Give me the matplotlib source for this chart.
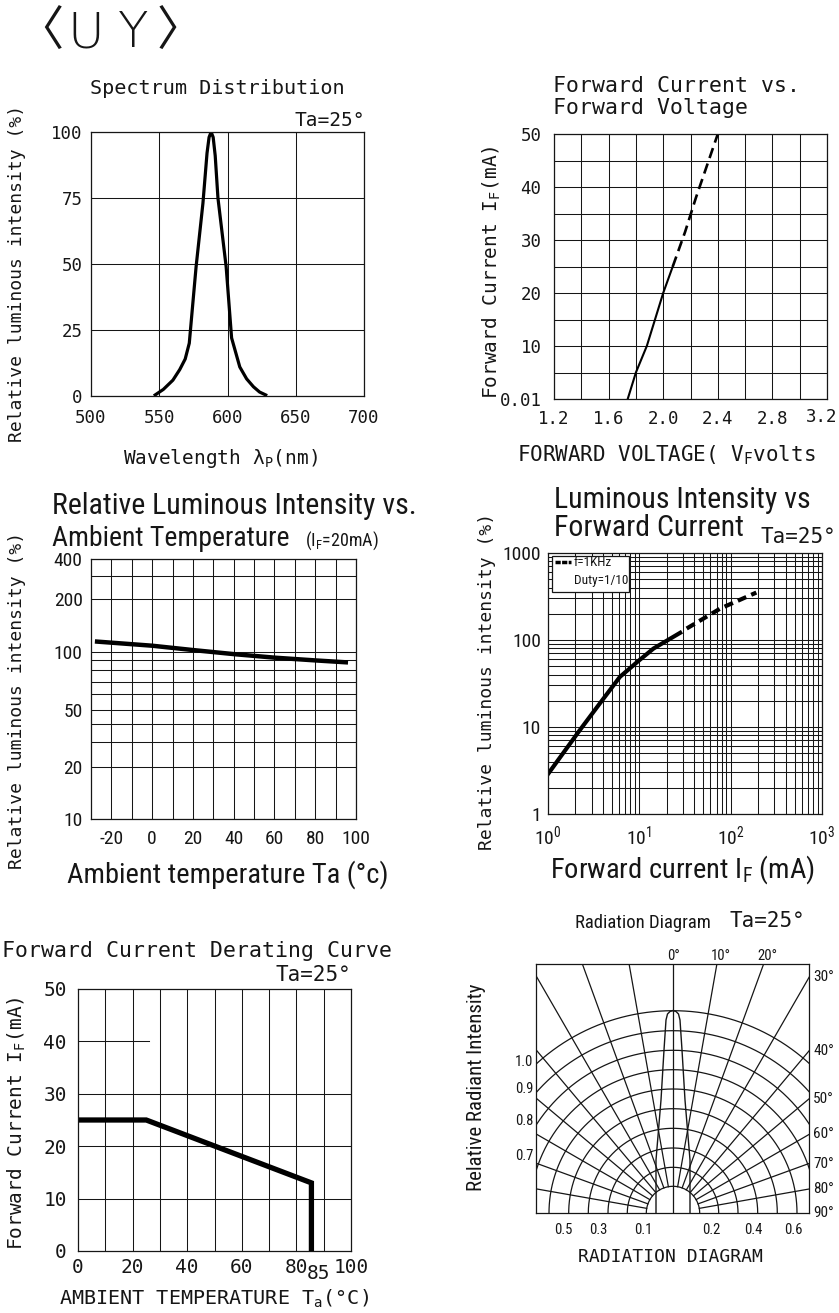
import os
import numpy as np
import matplotlib
matplotlib.use("Agg")
import matplotlib.pyplot as plt
from matplotlib import font_manager
from matplotlib.font_manager import FontProperties
from matplotlib.patches import Rectangle
from matplotlib.ticker import FixedLocator, NullFormatter

plt.rcParams['font.family'] = ['DejaVu Sans Mono', 'DejaVu Sans']
plt.rcParams['mathtext.default'] = 'regular'

W, H = 839, 1313
INK = '#161616'

# ---- values ----
# spectrum distribution (Ta=25)
wavelength = [547, 553, 560, 565, 569, 572, 577, 582, 585, 586.5, 588, 589.5, 591, 593, 599, 603, 609, 614, 619, 623.5, 628]
spectrum = [0.4, 2.5, 6, 10, 14, 20, 49, 73, 92, 98, 100, 98, 91, 75, 49, 22, 11, 6.5, 3.5, 1.5, 0.4]

# forward current vs forward voltage
vf_meas = [1.74, 1.80, 1.88, 1.94, 2.00, 2.07]
if_meas = [0, 5, 10, 15, 20, 25]
vf_ext = [2.07, 2.16, 2.24, 2.32, 2.40]
if_ext = [25, 31.5, 38, 44, 50]
vf_ticks = [1.2, 1.6, 2.0, 2.4, 2.8, 3.2]
if_ticks = [0, 10, 20, 30, 40, 50]
if_ticklabels = ['0.01', '10', '20', '30', '40', '50']

# relative luminous intensity vs ambient temperature (IF=20mA)
amb_temp = [-27, 0, 20, 40, 60, 80, 95]
rel_lum = [114, 108, 102, 97, 93, 90, 88]
temp_ticks = [-20, 0, 20, 40, 60, 80, 100]
lum_ticks = [10, 20, 50, 100, 200, 400]
lum_tick_pos = [0, 156, 328, 503, 661, 781]  # the printed axis is not a clean log scale
lum_minor = [30, 40, 60, 70, 80, 90, 300]

# luminous intensity vs forward current
if_dc = [1, 2.23, 3.7, 6.13, 10, 14.3, 28]
lum_dc = [2.88, 9.2, 18.7, 37.7, 58.6, 79.8, 121]
if_pulse = [33, 77, 191]
lum_pulse = [135.5, 230, 351]

# forward current derating curve
der_temp = [0, 25, 85.5, 85.5]
der_if = [25, 25, 13, 0]

# radiation diagram (units ~ px of the printed diagram)
ring_r = [26.7, 45.7, 65.0, 84.7, 104.3, 124.0, 143.3, 162.7, 182.3, 202.3]
spoke_deg = [-80, -70, -60, -50, -40, -30, -20, -10, 10, 20, 30, 40, 50, 60, 70, 80]
lobe_h = [0, 53, 113, 163, 193, 199, 201.5, 202.5]
lobe_w = [17, 17, 12, 9, 7, 5.5, 3, 0]
rad_left_lbl = ['1.0', '0.9', '0.8', '0.7']
rad_left_y = [151, 124, 92, 57]
rad_bot_lbl = ['0.5', '0.3', '0.1', '0.2', '0.4', '0.6']
rad_bot_x = [-110, -75, -30, 38, 80, 120]
rad_top_deg = [0, 10, 20]
rad_right_deg = [30, 40, 50, 60, 70, 80, 90]


def narrow_path():
    for name in ['Liberation Sans Narrow', 'Roboto Condensed', 'DejaVu Sans Condensed']:
        for f in font_manager.fontManager.ttflist:
            if f.name == name and f.style == 'normal' and f.weight in (400, 'normal', 'regular'):
                return f.fname
    for f in font_manager.fontManager.ttflist:
        if os.path.basename(f.fname) == 'DejaVuSansCondensed.ttf':
            return f.fname
    return None


NARROW = narrow_path()


def nf(size):
    if NARROW:
        return FontProperties(fname=NARROW, size=size)
    return FontProperties(family='Liberation Sans', size=size)


fig = plt.figure(figsize=(W / 100, H / 100), dpi=100)


def px_axes(l, t, r, b):
    ax = fig.add_axes([l / W, 1 - b / H, (r - l) / W, (b - t) / H])
    for s in ax.spines.values():
        s.set_linewidth(0.9)
        s.set_color(INK)
    ax.tick_params(which='both', length=0, colors=INK)
    return ax


def ftext(x, y, s, **kw):
    kw.setdefault('color', INK)
    kw.setdefault('va', 'center')
    return fig.text(x / W, 1 - y / H, s, **kw)


GRID = dict(color=INK, lw=0.75)

# header
ftext(40, 33, '〈', ha='center', fontsize=34, family=['Noto Sans CJK SC', 'DejaVu Sans'], weight='light')
ftext(86, 33, 'U', ha='center', fontsize=36, family=['DejaVu Sans'], weight=200)
ftext(133, 33, 'Y', ha='center', fontsize=36, family=['DejaVu Sans'], weight=200)
ftext(180, 33, '〉', ha='center', fontsize=34, family=['Noto Sans CJK SC', 'DejaVu Sans'], weight='light')

# ---- 1. spectrum distribution ----
ax = px_axes(91, 132, 364, 396)
ax.plot(wavelength, spectrum, color='k', lw=2.3)
ax.set_xlim(500, 700)
ax.set_ylim(0, 100)
ax.set_xticks([500, 550, 600, 650, 700])
ax.set_yticks([0, 25, 50, 75, 100])
ax.grid(**GRID)
ax.tick_params(axis='x', labelsize=12.5, pad=9)
ax.tick_params(axis='y', labelsize=12.5, pad=6)
ftext(217, 88, 'Spectrum Distribution', ha='center', fontsize=14.5)
ftext(365, 121, 'Ta=25°', ha='right', fontsize=14)
ftext(17, 273, 'Relative luminous intensity (%)', ha='center', rotation=90, fontsize=13)
ftext(220, 459, 'Wavelength λ$_P$(nm)', ha='center', fontsize=14)

# ---- 2. forward current vs forward voltage ----
ax = px_axes(554, 134, 827, 399)
ax.plot(vf_meas, if_meas, color='k', lw=1.5)
ax.plot(vf_ext, if_ext, color='k', lw=1.9, ls=(0, (4, 2.2)))
ax.set_xlim(1.2, 3.2)
ax.set_ylim(0, 50)
ax.set_xticks(vf_ticks)
ax.set_xticklabels([f'{v:.1f}' for v in vf_ticks[:-1]] + [''])
ax.xaxis.set_minor_locator(FixedLocator([1.4, 1.8, 2.2, 2.6, 3.0]))
ax.set_yticks(if_ticks)
ax.set_yticklabels(if_ticklabels)
ax.yaxis.set_minor_locator(FixedLocator([5, 15, 25, 35, 45]))
ax.grid(which='both', **GRID)
ax.tick_params(axis='x', labelsize=12.5, pad=8)
ax.tick_params(axis='y', labelsize=12.5, pad=9)
ftext(837, 417, f'{vf_ticks[-1]:.1f}', ha='right', fontsize=12.5)
ftext(553, 86, 'Forward Current vs.', ha='left', fontsize=15.5)
ftext(553, 108, 'Forward Voltage', ha='left', fontsize=15.5)
ftext(492, 272, 'Forward Current I$_F$(mA)', ha='center', rotation=90, fontsize=14)
ftext(517, 455, 'FORWARD VOLTAGE( V$_F$volts', ha='left', fontsize=15)

# ---- 3. relative luminous intensity vs ambient temperature ----
ax = px_axes(91, 559, 356, 819)


def lum_fwd(v):
    return np.interp(np.log10(np.clip(v, 1e-3, None)), np.log10(lum_ticks), lum_tick_pos)


def lum_inv(p):
    return 10 ** np.interp(p, lum_tick_pos, np.log10(lum_ticks))


ax.set_yscale('function', functions=(lum_fwd, lum_inv))
ax.plot(amb_temp, rel_lum, color='k', lw=3.2)
ax.set_xlim(-30, 100)
ax.set_ylim(10, 400)
ax.set_xticks(temp_ticks)
ax.set_xticklabels([str(v) for v in temp_ticks], fontproperties=nf(14))
ax.xaxis.set_minor_locator(FixedLocator([-10, 10, 30, 50, 70, 90]))
ax.set_yticks(lum_ticks)
ax.set_yticklabels([str(v) for v in lum_ticks], fontproperties=nf(14))
ax.yaxis.set_minor_locator(FixedLocator(lum_minor))
ax.yaxis.set_minor_formatter(NullFormatter())
ax.grid(which='both', **GRID)
ax.tick_params(axis='x', pad=8)
ax.tick_params(axis='y', pad=6)
ftext(52, 506, 'Relative Luminous Intensity vs.', ha='left', fontproperties=nf(21.5))
ftext(52, 538, 'Ambient Temperature', ha='left', fontproperties=nf(20))
ftext(305, 541, '(I$_F$=20mA)', ha='left', fontproperties=nf(13))
ftext(17, 700, 'Relative luminous intensity (%)', ha='center', rotation=90, fontsize=13)
ftext(228, 875, 'Ambient temperature Ta (°c)', ha='center', fontproperties=nf(20.5))

# ---- 4. luminous intensity vs forward current ----
ax = px_axes(548, 553, 822, 814)
ax.set_xscale('log')
ax.set_yscale('log')
ax.plot(if_dc, lum_dc, color='k', lw=3.0)
ax.plot(if_pulse, lum_pulse, color='k', lw=3.0, ls=(0, (2.2, 1.3)))
ax.set_xlim(1, 1000)
ax.set_ylim(1, 1000)
ax.set_xticks([1, 10, 100, 1000])
ax.set_xticklabels(['$10^{0}$', '$10^{1}$', '$10^{2}$', '$10^{3}$'], fontproperties=nf(14))
ax.set_yticks([1, 10, 100, 1000])
ax.set_yticklabels(['1', '10', '100', '1000'], fontproperties=nf(14))
ax.xaxis.set_minor_formatter(NullFormatter())
ax.yaxis.set_minor_formatter(NullFormatter())
ax.grid(which='both', **GRID)
ax.tick_params(axis='x', pad=7)
ax.tick_params(axis='y', pad=5)
ax.add_patch(Rectangle((0.015, 0.851), 0.281, 0.138, transform=ax.transAxes,
                       fc='white', ec=INK, lw=0.9, zorder=5))
ax.plot([0.024, 0.085], [0.965, 0.965], transform=ax.transAxes, color='k',
        lw=2.5, ls=(0, (1.5, 0.4)), zorder=6)
ax.text(0.095, 0.963, 'f=1KHz', transform=ax.transAxes, ha='left', va='center',
        fontproperties=nf(9.5), color=INK, zorder=6)
ax.text(0.095, 0.895, 'Duty=1/10', transform=ax.transAxes, ha='left', va='center',
        fontproperties=nf(9.5), color=INK, zorder=6)
ftext(554, 500, 'Luminous Intensity vs', ha='left', fontproperties=nf(21.5))
ftext(554, 528, 'Forward Current', ha='left', fontproperties=nf(21.5))
ftext(836, 537, 'Ta=25°', ha='right', fontsize=15)
ftext(487, 681, 'Relative luminous intensity (%)', ha='center', rotation=90, fontsize=13)
ftext(683, 870, 'Forward current I$_F$ (mA)', ha='center', fontproperties=nf(20.5))

# ---- 5. forward current derating curve ----
ax = px_axes(78, 989, 351, 1251)
for x in range(10, 100, 10):
    ax.axvline(x, **GRID)
for y in [10, 20, 30]:
    ax.axhline(y, **GRID)
ax.axhline(40, xmin=0, xmax=0.26, **GRID)
ax.plot(der_temp, der_if, color='k', lw=3.8, solid_joinstyle='miter')
ax.set_xlim(0, 100)
ax.set_ylim(0, 50)
ax.set_xticks([0, 20, 40, 60, 80, 100])
ax.set_yticks([0, 10, 20, 30, 40, 50])
ax.tick_params(axis='x', labelsize=14, pad=5)
ax.tick_params(axis='y', labelsize=14, pad=8)
ax.annotate('85', xy=(der_temp[-1], 0), xycoords=('data', 'axes fraction'),
            xytext=(5, -16), textcoords='offset points', ha='center', va='center',
            fontsize=14, color=INK)
ftext(2, 951, 'Forward Current Derating Curve', ha='left', fontsize=15.5)
ftext(351, 975, 'Ta=25°', ha='right', fontsize=15)
ftext(17, 1123, 'Forward Current I$_F$(mA)', ha='center', rotation=90, fontsize=14)
ftext(214, 1299, 'AMBIENT TEMPERATURE T$_a$(°C)', ha='center', fontsize=14.5)

# ---- 6. radiation diagram ----
ax = px_axes(536, 964, 809, 1213)
ax.set_xlim(-137, 136)
ax.set_ylim(0, 249)
ax.set_xticks([])
ax.set_yticks([])
theta = np.linspace(0, np.pi, 400)
for r in ring_r:
    ax.plot(r * np.cos(theta), r * np.sin(theta), color=INK, lw=0.9)
for a in spoke_deg:
    t = np.radians(a)
    ax.plot([ring_r[0] * np.sin(t), 400 * np.sin(t)], [ring_r[0] * np.cos(t), 400 * np.cos(t)],
            color=INK, lw=0.9)
ax.axvline(0, color=INK, lw=0.9)
lobe_x = [-w for w in lobe_w] + [w for w in lobe_w[::-1]]
lobe_y = lobe_h + lobe_h[::-1]
ax.plot(lobe_x, lobe_y, color=INK, lw=1.0)
for lbl, y in zip(rad_left_lbl, rad_left_y):
    ax.text(-140, y, lbl, ha='right', va='center', fontproperties=nf(10.5), color=INK, clip_on=False)
for lbl, x in zip(rad_bot_lbl, rad_bot_x):
    ax.text(x, -17, lbl, ha='center', va='center', fontproperties=nf(10.5), color=INK, clip_on=False)
for a in rad_top_deg:
    x = 249 * np.tan(np.radians(a))
    ax.text(x + (4 if a else 0), 257, f'{a}°', ha='center', va='center',
            fontproperties=nf(10.5), color=INK, clip_on=False)
for a in rad_right_deg:
    y = 136 / np.tan(np.radians(a)) if a < 90 else 0
    ax.text(140, y, f'{a}°', ha='left', va='center', fontproperties=nf(11), color=INK, clip_on=False)
ftext(575, 923, 'Radiation Diagram', ha='left', fontproperties=nf(13.5))
ftext(730, 921, 'Ta=25°', ha='left', fontsize=15)
ftext(670, 1257, 'RADIATION DIAGRAM', ha='center', fontsize=13)
ftext(476, 1087, 'Relative Radiant Intensity', ha='center', rotation=90, fontproperties=nf(15))

fig.savefig('out.png', dpi=100)
